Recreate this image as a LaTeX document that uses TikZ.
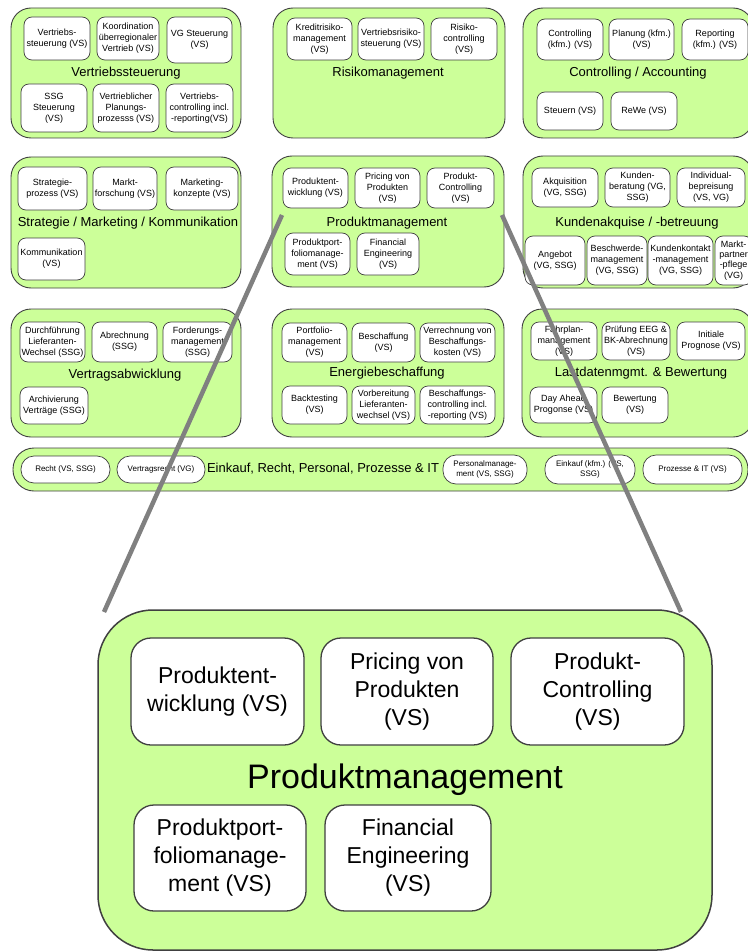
\documentclass[tikz,border=0pt]{standalone}
\usepackage{fontspec}
\setmainfont{Liberation Sans}
\definecolor{grpgreen}{HTML}{CCFF99}
\definecolor{bordergray}{HTML}{404040}
\definecolor{linegray}{HTML}{808080}
\tikzset{
  grp/.style={draw=bordergray, fill=grpgreen, rounded corners=20pt, line width=0.9pt, inner sep=0pt},
  ibox/.style={draw=bordergray, fill=white, rounded corners=8pt, line width=0.7pt, inner sep=1pt, align=center, font=\fontsize{9}{11}\selectfont},
  pill/.style={ibox, rounded corners=13pt, font=\fontsize{8}{9.5}\selectfont},
  gtitle/.style={font=\fontsize{13}{15}\selectfont, inner sep=0pt},
  bigbox/.style={ibox, rounded corners=20pt, line width=1.3pt, font=\fontsize{23}{28}\selectfont},
  bigtitle/.style={font=\fontsize{34}{40}\selectfont, inner sep=0pt},
  zoomline/.style={draw=linegray, line width=4.5pt},
}
\newcommand\bx[7]{\node[#1, minimum width={(#4-#2)*1pt}, minimum height={(#5-#3)*1pt}] (#6) at ({(#2+#4)/2},{(#3+#5)/2}) {#7};}
\begin{document}
\begin{tikzpicture}[x=1pt,y=-1pt]
\fill[white] (0,0) rectangle (747,952);
\useasboundingbox (0,0) rectangle (747,952);

% ---------- Row 1 ----------
\bx{grp}{11}{8}{241}{138}{g1}{}
\node[gtitle] (g1t) at (126,73) {Vertriebssteuerung};
\bx{ibox}{24}{17}{90}{60}{v1}{Vertriebs-\\steuerung (VS)}
\bx{ibox}{97}{17}{159}{60}{v2}{Koordination\\überregionaler\\Vertrieb (VS)}
\bx{ibox}{167}{17}{232}{63}{v3}{VG Steuerung\\(VS)}
\bx{ibox}{21}{84}{87}{132}{v4}{SSG\\Steuerung\\(VS)}
\bx{ibox}{93}{84}{159}{132}{v5}{Vertrieblicher\\Planungs-\\prozesss (VS)}
\bx{ibox}{166}{84}{233}{132}{v6}{Vertriebs-\\controlling incl.\\-reporting(VS)}

\bx{grp}{273}{8}{505}{138}{g2}{}
\node[gtitle] (g2t) at (388,73) {Risikomanagement};
\bx{ibox}{287}{18}{352}{60}{r1}{Kreditrisiko-\\management\\(VS)}
\bx{ibox}{358}{18}{424}{60}{r2}{Vertriebsrisiko-\\steuerung (VS)}
\bx{ibox}{431}{18}{497}{60}{r3}{Risiko-\\controlling\\(VS)}

\bx{grp}{523}{8}{753}{138}{g3}{}
\node[gtitle] (g3t) at (638,73) {Controlling / Accounting};
\bx{ibox}{537}{19}{603}{60}{c1}{Controlling\\(kfm.) (VS)}
\bx{ibox}{609}{19}{674}{60}{c2}{Planung (kfm.)\\(VS)}
\bx{ibox}{682}{19}{748}{60}{c3}{Reporting\\(kfm.) (VS)}
\bx{ibox}{537}{92}{603}{130}{c4}{Steuern (VS)}
\bx{ibox}{611}{92}{677}{130}{c5}{ReWe (VS)}

% ---------- Row 2 ----------
\bx{grp}{11}{157}{241}{288}{g4}{}
\node[gtitle] (g4t) at (128,223) {Strategie / Marketing / Kommunikation};
\bx{ibox}{18}{167}{87}{210}{s1}{Strategie-\\prozess (VS)}
\bx{ibox}{93}{167}{157}{210}{s2}{Markt-\\forschung (VS)}
\bx{ibox}{166}{167}{238}{210}{s3}{Marketing-\\konzepte (VS)}
\bx{ibox}{18}{238}{85}{280}{s4}{Kommunikation\\(VS)}

\bx{grp}{272}{156}{504}{287}{g5}{}
\node[gtitle] (g5t) at (387,223) {Produktmanagement};
\bx{ibox}{283}{168}{348}{208}{p1}{Produktent-\\wicklung (VS)}
\bx{ibox}{355}{168}{420}{208}{p2}{Pricing von\\Produkten\\(VS)}
\bx{ibox}{427}{168}{494}{208}{p3}{Produkt-\\Controlling\\(VS)}
\bx{ibox}{285}{233}{350}{275}{p4}{Produktport-\\foliomanage-\\ment (VS)}
\bx{ibox}{357}{233}{419}{275}{p5}{Financial\\Engineering\\(VS)}

\bx{grp}{523}{156}{753}{288}{g6}{}
\node[gtitle] (g6t) at (637,223) {Kundenakquise / -betreuung};
\bx{ibox}{532}{168}{598}{207}{k1}{Akquisition\\(VG, SSG)}
\bx{ibox}{605}{168}{670}{207}{k2}{Kunden-\\beratung (VG,\\SSG)}
\bx{ibox}{677}{168}{745}{207}{k3}{Individual-\\bepreisung\\(VS, VG)}
\bx{ibox}{525}{236}{585}{285}{k4}{Angebot\\(VG, SSG)}
\bx{ibox}{587}{236}{647}{285}{k5}{Beschwerde-\\management\\(VG, SSG)}
\bx{ibox}{648}{236}{713}{285}{k6}{Kundenkontakt\\-management\\(VG, SSG)}
\bx{ibox, font=\fontsize{9}{10.3}\selectfont}{715}{236}{752}{285}{k7}{Markt-\\partner\\-pflege\\(VG)}

% ---------- Row 3 ----------
\bx{grp}{11}{309}{241}{437}{g7}{}
\node[gtitle] (g7t) at (125,375) {Vertragsabwicklung};
\bx{ibox}{20}{322}{85}{362}{a1}{Durchführung\\Lieferanten-\\Wechsel (SSG)}
\bx{ibox}{92}{322}{157}{362}{a2}{Abrechnung\\(SSG)}
\bx{ibox}{163}{322}{232}{362}{a3}{Forderungs-\\management\\(SSG)}
\bx{ibox}{20}{387}{88}{424}{a4}{Archivierung\\Verträge (SSG)}

\bx{grp}{272}{309}{504}{437}{g8}{}
\node[gtitle] (g8t) at (387,373) {Energiebeschaffung};
\bx{ibox}{282}{323}{347}{362}{e1}{Portfolio-\\management\\(VS)}
\bx{ibox}{352}{323}{415}{362}{e2}{Beschaffung\\(VS)}
\bx{ibox}{420}{323}{495}{362}{e3}{Verrechnung von\\Beschaffungs-\\kosten (VS)}
\bx{ibox}{282}{386}{347}{424}{e4}{Backtesting\\(VS)}
\bx{ibox}{352}{386}{415}{424}{e5}{Vorbereitung\\Lieferanten-\\wechsel (VS)}
\bx{ibox}{420}{386}{495}{424}{e6}{Beschaffungs-\\controlling incl.\\-reporting (VS)}

\bx{grp}{522}{309}{753}{437}{g9}{}
\node[gtitle] (g9t) at (641,373) {Lastdatenmgmt. \& Bewertung};
\bx{ibox}{531}{322}{597}{360}{l1}{Fahrplan-\\management\\(VS)}
\bx{ibox}{602}{322}{670}{360}{l2}{Prüfung EEG \&\\BK-Abrechnung\\(VS)}
\bx{ibox}{677}{322}{745}{360}{l3}{Initiale\\Prognose (VS)}
\bx{ibox}{530}{387}{597}{423}{l4}{Day Ahead\\Progonse (VS)}
\bx{ibox}{602}{387}{668}{423}{l5}{Bewertung\\(VS)}

% ---------- Row 4 (bar) ----------
\bx{grp, rounded corners=21pt}{13}{448}{748}{491}{g10}{}
\node[gtitle] (g10t) at (323,469) {Einkauf, Recht, Personal, Prozesse \& IT};
\bx{pill}{21}{456}{110}{483}{b1}{Recht (VS, SSG)}
\bx{pill}{117}{456}{205}{483}{b2}{Vertragsrecht (VG)}
\bx{pill}{443}{455}{527}{484}{b3}{Personalmanage-\\ment (VS, SSG)}
\bx{pill}{545}{455}{635}{484}{b4}{Einkauf (kfm.) (VS,\\SSG)}
\bx{pill}{643}{455}{742}{484}{b5}{Prozesse \& IT (VS)}

% ---------- Enlarged Produktmanagement ----------
\bx{grp, rounded corners=55pt, line width=1.5pt}{98}{610}{712}{950}{big}{}
\bx{bigbox}{131}{638}{304}{745}{bp1}{Produktent-\\wicklung (VS)}
\bx{bigbox}{321}{638}{493}{745}{bp2}{Pricing von\\Produkten\\(VS)}
\bx{bigbox}{511}{638}{684}{745}{bp3}{Produkt-\\Controlling\\(VS)}
\node[bigtitle] (bigt) at (405,780) {Produktmanagement};
\bx{bigbox}{134}{805}{306}{911}{bp4}{Produktport-\\foliomanage-\\ment (VS)}
\bx{bigbox}{325}{805}{491}{911}{bp5}{Financial\\Engineering\\(VS)}

% ---------- zoom lines ----------
\coordinate (L1) at (282,215);
\coordinate (L2) at (104,612);
\coordinate (R1) at (502,215);
\coordinate (R2) at (681,612);
\draw[zoomline] (L1) -- (L2);
\draw[zoomline] (R1) -- (R2);
\end{tikzpicture}
\end{document}
